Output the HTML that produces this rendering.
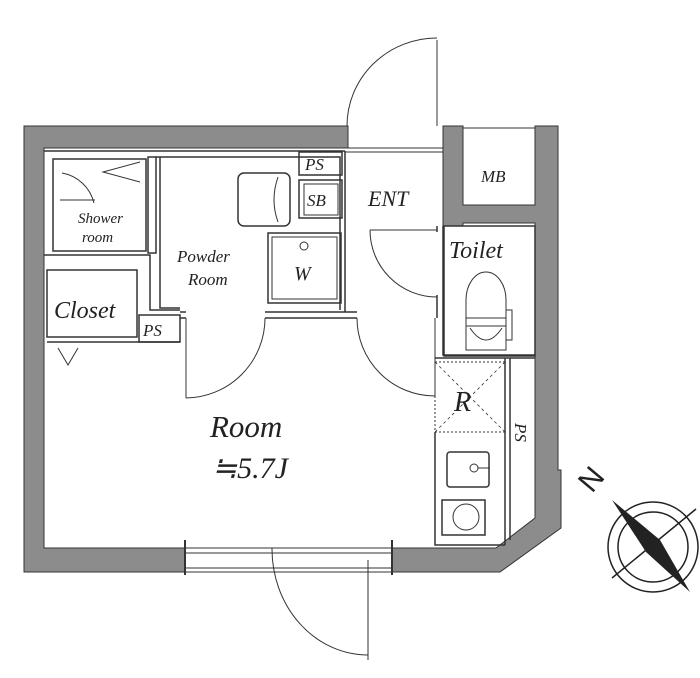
<!DOCTYPE html>
<html><head><meta charset="utf-8"><style>
html,body{margin:0;padding:0;background:#fff}
svg{display:block}
text{font-family:"Liberation Serif",serif;font-style:italic;fill:#222}
</style></head><body>
<svg width="700" height="678" viewBox="0 0 700 678" xmlns="http://www.w3.org/2000/svg">
<g fill="#8c8c8c" stroke="#333" stroke-width="1">
<path d="M24,126 H348 V148 H44 V548 H185 V572 H24 Z"/>
<path d="M443,126 H463 V205 H535 V126 H558 V470 H561 V528 L500,572 H392 V548 H496 L535,518 V223 H463 V226 H443 Z"/>
</g>
<g fill="none" stroke="#333" stroke-width="1.5">
<path d="M44,151 H345"/>
<rect x="53" y="159" width="93" height="92"/>
<rect x="148" y="157" width="8" height="96"/>
<path d="M140,162 L103,172 L140,182" stroke-width="1"/>
<path d="M62,173 A40,40 0 0 1 94,203" stroke-width="1"/>
<path d="M60,200 H95" stroke-width="1"/>
<path d="M44,255 H150 V310 H180"/>
<path d="M156,157 H340 V310"/>
<path d="M160,157 V308 H180"/>
<rect x="238" y="173" width="52" height="53" rx="6"/>
<path d="M278,177 Q270,200 278,222" stroke-width="1"/>
<rect x="299" y="152" width="43" height="23"/>
<rect x="299" y="180" width="43" height="38"/>
<rect x="304" y="184" width="34" height="31" stroke-width="1"/>
<rect x="268" y="233" width="73" height="70"/>
<rect x="272" y="237" width="65" height="62" stroke-width="1"/>
<circle cx="304" cy="246" r="4" stroke-width="1"/>
<rect x="47" y="270" width="90" height="67"/>
<path d="M47,342 H180"/>
<rect x="139" y="315" width="41" height="27"/>
<path d="M58,348 L68,365 L78,348" stroke-width="1"/>
<path d="M180,312 H186 M265,312 H357 M180,318 H186 M265,318 H357" />
<path d="M186,318 V398 M186,398 A80,80 0 0 0 265,318" stroke-width="1"/>
<path d="M357,318 A78,78 0 0 0 435,396 M435,318 V396" stroke-width="1"/>
<path d="M345,151 V312"/>
<path d="M345,148 H443 M345,152 H443" stroke-width="1"/>
<path d="M437,126 V40 M347,126 A90,88 0 0 1 437,38" stroke-width="1"/>
<path d="M370,230 H437 M370,230 A67,67 0 0 0 437,297" stroke-width="1"/>
<path d="M437,226 V232 M437,295 V318 M443,226 V355 H535"/>
<rect x="444" y="226" width="91" height="130"/>
<path d="M466,350 V300 A20,28 0 0 1 506,300 V350 Z" stroke-width="1"/>
<rect x="466" y="318" width="40" height="8" stroke-width="1"/>
<path d="M470,328 Q486,352 502,328" stroke-width="1"/>
<rect x="506" y="310" width="6" height="30" stroke-width="1"/>
<rect x="463" y="128" width="72" height="77" stroke-width="1"/>
<rect x="435" y="362" width="70" height="70" stroke-dasharray="2,2" stroke-width="1"/>
<path d="M435,362 L505,432 M505,362 L435,432" stroke-dasharray="3,3" stroke-width="0.8"/>
<path d="M435,358 H535 M510,358 V540 M505,358 V545 M435,432 V545 H505"/>
<rect x="447" y="452" width="42" height="35" rx="3"/>
<circle cx="474" cy="468" r="4" stroke-width="1"/>
<path d="M478,468 H490" stroke-width="1"/>
<rect x="442" y="500" width="43" height="35"/>
<circle cx="466" cy="517" r="13" stroke-width="1"/>
<path d="M185,548 H392 M185,553 H392 M185,568 H392 M185,572 H392" stroke-width="1"/>
<path d="M368,560 V660 M272,548 A96,106 0 0 0 368,655" stroke-width="1"/>
<path d="M185,540 V575 M392,540 V575" stroke-width="2"/>
</g>
<text x="78" y="223" font-size="15">Shower</text>
<text x="82" y="242" font-size="15">room</text>
<text x="177" y="262" font-size="17">Powder</text>
<text x="188" y="285" font-size="17">Room</text>
<text x="305" y="170" font-size="17">PS</text>
<text x="307" y="206" font-size="17">SB</text>
<text x="294" y="280" font-size="20">W</text>
<text x="368" y="206" font-size="22">ENT</text>
<text x="481" y="182" font-size="17">MB</text>
<text x="449" y="258" font-size="24">Toilet</text>
<text x="54" y="318" font-size="24">Closet</text>
<text x="143" y="336" font-size="17">PS</text>
<text x="454" y="411" font-size="28">R</text>
<text x="0" y="0" font-size="17" transform="translate(515,423) rotate(90)">PS</text>
<text x="210" y="437" font-size="31">Room</text>
<text x="212" y="478" font-size="30">≒5.7J</text>
<g stroke="#222" fill="none" stroke-width="1.5">
<circle cx="653" cy="547" r="45"/>
<circle cx="653" cy="547" r="35"/>
<path d="M612,578 L696,509"/>
</g>
<path d="M612,500 L660,540 L690,592 L646,552 Z" fill="#222"/>
<text x="0" y="0" font-size="30" transform="translate(592,494) rotate(-50)" style="font-family:'Liberation Sans',sans-serif;font-style:normal">N</text>
</svg>
</body></html>
